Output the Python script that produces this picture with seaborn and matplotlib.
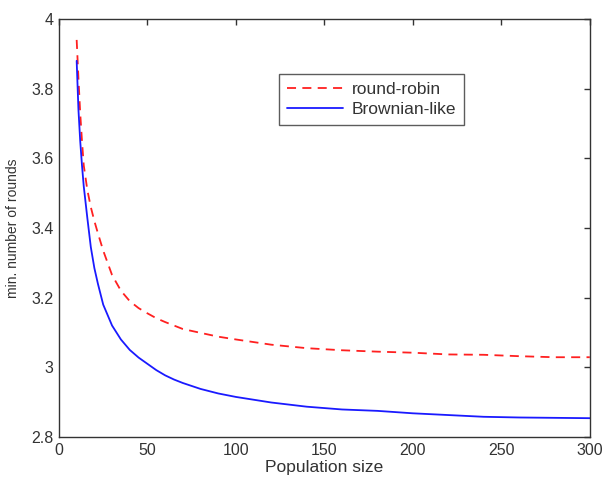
import numpy as np
import pandas as pd
import matplotlib
matplotlib.use("Agg")
import matplotlib.pyplot as plt
import seaborn as sns

x_vals = [10, 11, 12, 13, 14, 16, 18, 20, 22, 25, 30, 35, 40, 45, 50, 55, 60, 65,
          70, 80, 90, 100, 120, 140, 160, 180, 200, 220, 240, 260, 280, 300]
round_robin = [3.94, 3.83, 3.73, 3.65, 3.58, 3.51, 3.46, 3.42, 3.385, 3.335, 3.265,
               3.22, 3.19, 3.17, 3.155, 3.141, 3.13, 3.12, 3.11, 3.099, 3.088,
               3.08, 3.065, 3.055, 3.049, 3.045, 3.042, 3.037, 3.036, 3.032,
               3.029, 3.029]
brownian = [3.88, 3.74, 3.65, 3.58, 3.52, 3.43, 3.345, 3.285, 3.24, 3.18, 3.12,
            3.08, 3.05, 3.028, 3.01, 2.992, 2.977, 2.965, 2.955, 2.938, 2.925,
            2.915, 2.899, 2.887, 2.879, 2.875, 2.868, 2.863, 2.858, 2.856,
            2.855, 2.854]
series_names = ["round-robin", "Brownian-like"]
x_ticks = [0, 50, 100, 150, 200, 250, 300]
y_ticks = [2.8, 3.0, 3.2, 3.4, 3.6, 3.8, 4.0]
y_tick_labels = ["2.8", "3", "3.2", "3.4", "3.6", "3.8", "4"]

df = pd.DataFrame({
    "x": x_vals * 2,
    "y": round_robin + brownian,
    "series": [series_names[0]] * len(x_vals) + [series_names[1]] * len(x_vals),
})

sns.set_style("white")
plt.rcParams["font.family"] = ["Liberation Sans", "DejaVu Sans"]

fig = plt.figure(figsize=(6.03, 4.79), dpi=100)
ax = fig.add_axes([0.0978, 0.0877, 0.8803, 0.8726])

sns.lineplot(data=df, x="x", y="y", hue="series", style="series",
             palette={"round-robin": "#ff2020", "Brownian-like": "#1a1aff"},
             dashes={"round-robin": (5, 3.5), "Brownian-like": ""},
             linewidth=1.3, ax=ax, legend=True)

ax.set_xlim(0, 300)
ax.set_ylim(2.8, 4.0)
ax.set_xticks(x_ticks)
ax.set_yticks(y_ticks)
ax.set_yticklabels(y_tick_labels)
ax.tick_params(direction="in", length=4, width=1, top=True, right=True,
               labelsize=11.5, colors="#333333", pad=4)
for sp in ax.spines.values():
    sp.set_color("#333333")
    sp.set_linewidth(1.0)
    sp.set_visible(True)

ax.set_xlabel("Population size", fontsize=12.5, color="#333333", labelpad=2)
ax.set_ylabel("min. number of rounds", fontsize=10, color="#333333", labelpad=8)

leg = ax.legend(loc="upper left", bbox_to_anchor=(0.399, 0.889), fontsize=12.5,
                frameon=True, fancybox=False, edgecolor="#333333",
                handlelength=3.2, handletextpad=0.5, borderpad=0.45,
                labelspacing=0.3)
leg.get_frame().set_linewidth(1.0)
for t in leg.get_texts():
    t.set_color("#333333")

fig.savefig("out.png", dpi=100)
